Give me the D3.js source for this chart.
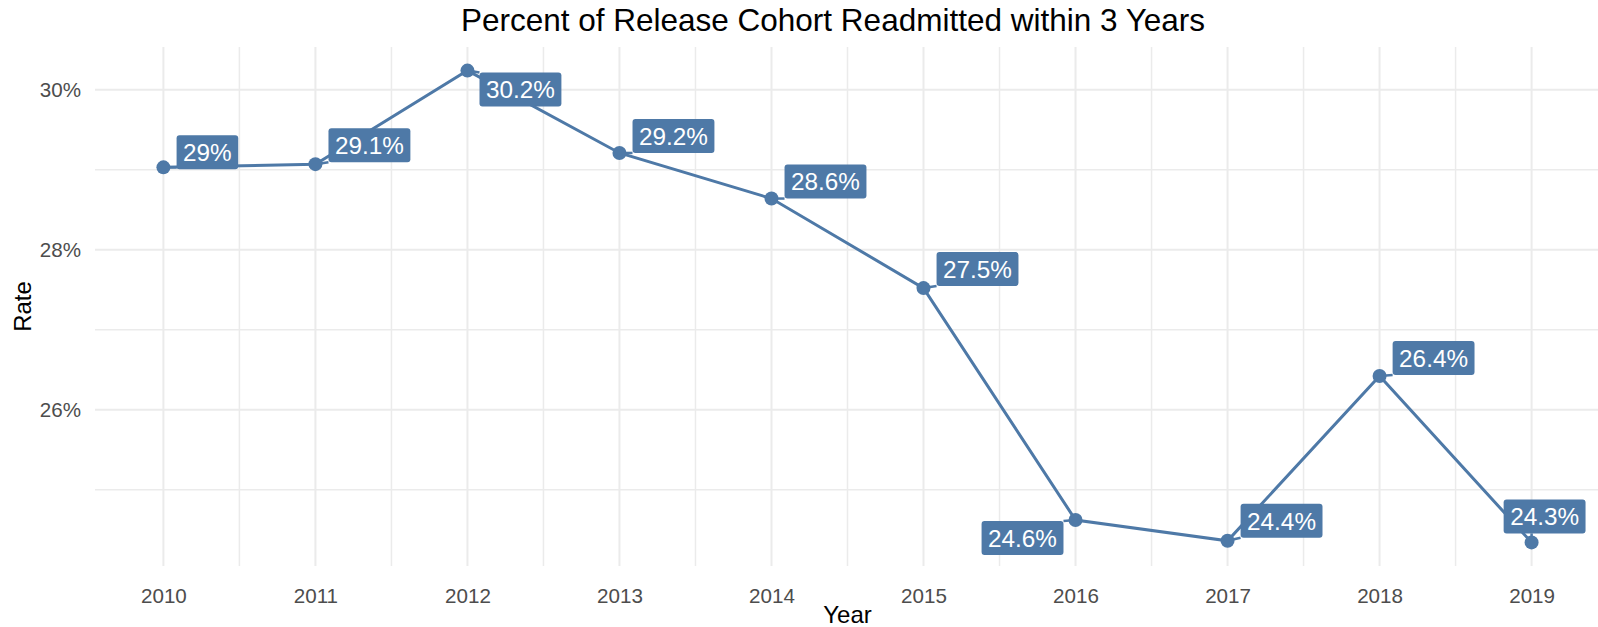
<html>
  <head>
    <meta charset="utf-8">
    <title>Readmission rate</title>
    <script src="https://cdnjs.cloudflare.com/ajax/libs/d3/7.8.5/d3.min.js"></script>
    <style>
      body { margin: 0; background: #fff; }
      text { font-family: "Liberation Sans", Arial, sans-serif; }
    </style>
  </head>
  <body>
    <div id="chart"></div>
<script>
  // data
  const years = [2010, 2011, 2012, 2013, 2014, 2015, 2016, 2017, 2018, 2019];
  const rates = [29.03, 29.07, 30.24, 29.21, 28.64, 27.52, 24.62, 24.36, 26.42, 24.34];
  const yTicks = [26, 28, 30];
  const yMinor = [25, 27, 29];

  // where the (repelled) labels ended up, relative to their point
  const labelNudge = [
    [44, -15], [54, -19], [53, 19], [54, -17], [54, -17],
    [54, -19], [-53, 18], [54, -20], [54, -18], [13, -26]
  ];

  const W = 1598, H = 627;
  const panel = { left: 95, right: 1600, top: 47, bottom: 566 };
  const col = '#4E79A7', grid = '#EBEBEB';

  const pad = (lo, hi) => [lo - (hi - lo) * 0.05, hi + (hi - lo) * 0.05];

  const x = d3.scaleLinear()
    .domain(pad(d3.min(years), d3.max(years)))
    .range([panel.left, panel.right]);
  const y = d3.scaleLinear()
    .domain(pad(d3.min(rates), d3.max(rates)))
    .range([panel.bottom, panel.top]);

  const data = years.map((yr, i) => ({ year: yr, rate: rates[i], nudge: labelNudge[i] }));

  const svg = d3.select('#chart').append('svg')
    .attr('width', W)
    .attr('height', H);

  // minor grid
  const xMinor = years.slice(0, -1).map(d => d + 0.5);
  svg.append('g').selectAll('line').data(xMinor).join('line')
    .attr('x1', d => x(d)).attr('x2', d => x(d))
    .attr('y1', panel.top).attr('y2', panel.bottom)
    .attr('stroke', grid).attr('stroke-width', 1.5);
  svg.append('g').selectAll('line').data(yMinor).join('line')
    .attr('x1', panel.left).attr('x2', panel.right)
    .attr('y1', d => y(d)).attr('y2', d => y(d))
    .attr('stroke', grid).attr('stroke-width', 1.5);

  // major grid
  svg.append('g').selectAll('line').data(years).join('line')
    .attr('x1', d => x(d)).attr('x2', d => x(d))
    .attr('y1', panel.top).attr('y2', panel.bottom)
    .attr('stroke', grid).attr('stroke-width', 2);
  svg.append('g').selectAll('line').data(yTicks).join('line')
    .attr('x1', panel.left).attr('x2', panel.right)
    .attr('y1', d => y(d)).attr('y2', d => y(d))
    .attr('stroke', grid).attr('stroke-width', 2);

  // axes (text only, like theme_minimal)
  const xAxis = svg.append('g')
    .attr('transform', `translate(0, ${panel.bottom})`)
    .call(d3.axisBottom(x).tickValues(years).tickFormat(d3.format('d')).tickSize(0).tickPadding(22));
  xAxis.select('.domain').remove();
  xAxis.selectAll('text').attr('font-size', '20.6px').attr('fill', '#4D4D4D')
    .style('font-family', '"Liberation Sans", Arial, sans-serif');

  const yAxis = svg.append('g')
    .attr('transform', `translate(${panel.left}, 0)`)
    .call(d3.axisLeft(y).tickValues(yTicks).tickFormat(d => d + '%').tickSize(0).tickPadding(14));
  yAxis.select('.domain').remove();
  yAxis.selectAll('text').attr('font-size', '20.6px').attr('fill', '#4D4D4D')
    .style('font-family', '"Liberation Sans", Arial, sans-serif');

  // layers
  const gLine = svg.append('g');
  const gSeg = svg.append('g');
  const gPts = svg.append('g');
  const gLab = svg.append('g');

  gLine.append('path')
    .datum(data)
    .attr('fill', 'none')
    .attr('stroke', col)
    .attr('stroke-width', 3)
    .attr('d', d3.line().x(d => x(d.year)).y(d => y(d.rate)));

  gPts.selectAll('circle').data(data).join('circle')
    .attr('cx', d => x(d.year))
    .attr('cy', d => y(d.rate))
    .attr('r', 7)
    .attr('fill', col);

  // labels
  const fmt = v => `${+v.toFixed(1)}%`;
  const labels = gLab.selectAll('g').data(data).join('g');

  labels.append('text')
    .attr('x', d => x(d.year) + d.nudge[0])
    .attr('y', d => y(d.rate) + d.nudge[1])
    .attr('text-anchor', 'middle')
    .attr('dy', '0.36em')
    .attr('font-size', '24.3px')
    .attr('fill', '#fff')
    .text(d => fmt(d.rate));

  labels.each(function (d) {
    const g = d3.select(this);
    const bb = g.select('text').node().getBBox();
    const bw = bb.width + 13, bh = 34;
    const cx = x(d.year) + d.nudge[0], cy = y(d.rate) + d.nudge[1];
    d.box = { x0: cx - bw / 2, x1: cx + bw / 2, y0: cy - bh / 2, y1: cy + bh / 2 };
    g.insert('rect', 'text')
      .attr('x', d.box.x0).attr('y', d.box.y0)
      .attr('width', bw).attr('height', bh)
      .attr('rx', 3).attr('fill', col);
  });

  // short repel segments from point to box
  gSeg.selectAll('line').data(data).join('line')
    .attr('x1', d => x(d.year)).attr('y1', d => y(d.rate))
    .attr('x2', d => Math.max(d.box.x0, Math.min(x(d.year), d.box.x1)))
    .attr('y2', d => Math.max(d.box.y0, Math.min(y(d.rate), d.box.y1)))
    .attr('stroke', col).attr('stroke-width', 2.5);

  // titles
  svg.append('text')
    .attr('x', 833)
    .attr('y', 31)
    .attr('text-anchor', 'middle')
    .attr('font-size', '31.5px')
    .attr('fill', '#000')
    .text('Percent of Release Cohort Readmitted within 3 Years');

  svg.append('text')
    .attr('x', (panel.left + panel.right) / 2)
    .attr('y', 623)
    .attr('text-anchor', 'middle')
    .attr('font-size', '24px')
    .attr('fill', '#000')
    .text('Year');

  svg.append('text')
    .attr('transform', `translate(31, ${(panel.top + panel.bottom) / 2}) rotate(-90)`)
    .attr('text-anchor', 'middle')
    .attr('font-size', '24px')
    .attr('fill', '#000')
    .text('Rate');
</script>
  </body>
</html>
